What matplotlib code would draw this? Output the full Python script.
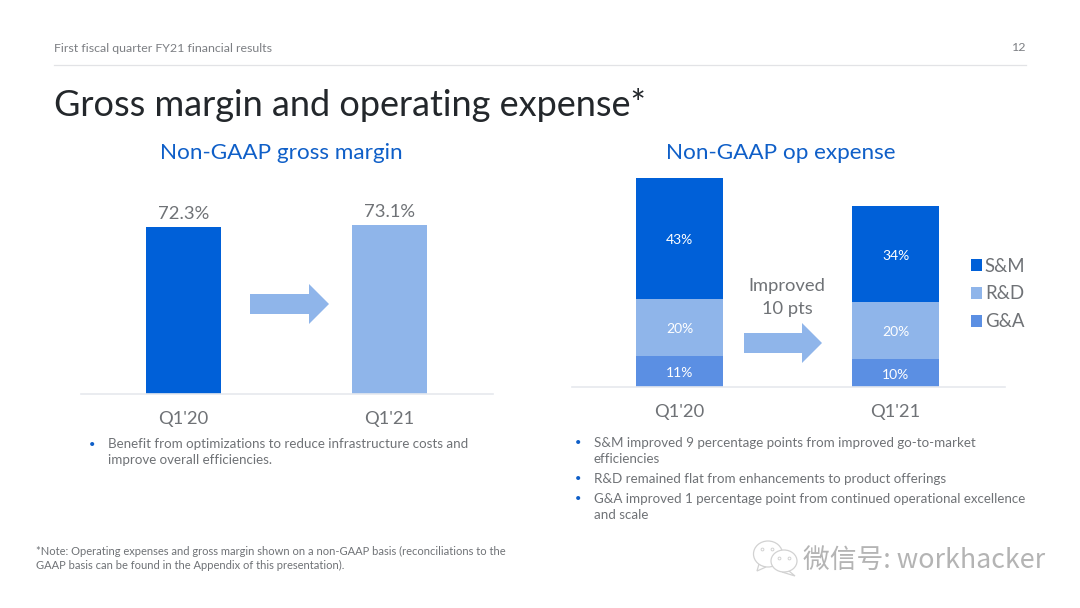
import matplotlib
matplotlib.use("Agg")
import matplotlib.pyplot as plt
from matplotlib.patches import Ellipse, Polygon

W, H = 1080, 608

quarters = ["Q1'20", "Q1'21"]
gross_margin = [72.3, 73.1]
gross_labels = ["72.3%", "73.1%"]
opex_series = ["G&A", "R&D", "S&M"]
opex_ga = [11, 10]
opex_rd = [20, 20]
opex_sm = [43, 34]

BLUE = "#0060d8"
LIGHT = "#8fb5ea"
MID = "#5b8fe3"
GRAY = "#6f7276"
TITLE_BLUE = "#0f5fc8"
DARK = "#23272b"
AXIS = "#e6e9ee"

plt.rcParams["font.family"] = ["Lato", "DejaVu Sans"]


def px_axes(fig, left, right, top, bottom):
    return fig.add_axes([left / W, 1 - bottom / H, (right - left) / W, (bottom - top) / H])


def clean(ax):
    for side in ["top", "left", "right"]:
        ax.spines[side].set_visible(False)
    ax.spines["bottom"].set_color(AXIS)
    ax.spines["bottom"].set_linewidth(1.2)
    ax.set_yticks([])
    ax.patch.set_alpha(0)


fig = plt.figure(figsize=(W / 100, H / 100), dpi=100, facecolor="white")

# overlay in pixel coordinates, for the slide furniture
bg = fig.add_axes([0, 0, 1, 1])
bg.set_xlim(0, W)
bg.set_ylim(H, 0)
bg.axis("off")

# ── gross margin ───────────────────────────────────────────────────────────────
ax1 = px_axes(fig, 81, 493, 209, 394)
clean(ax1)
bars = ax1.bar([0, 1], gross_margin, width=0.364, color=[BLUE, LIGHT])
ax1.set_xlim(-0.4976, 1.502)
ax1.set_ylim(0, 80)
ax1.set_xticks([0, 1], quarters, fontsize=13.2, color=GRAY)
ax1.tick_params(axis="x", length=0, pad=12.5)
for b, lab in zip(bars, gross_labels):
    ax1.annotate(lab, (b.get_x() + b.get_width() / 2, b.get_height()), xytext=(0, 3.5),
                 textcoords="offset points", ha="center", va="bottom",
                 fontsize=13.2, color=GRAY, annotation_clip=False)

# ── op expense ─────────────────────────────────────────────────────────────────
ax2 = px_axes(fig, 572, 1005, 161, 387)
clean(ax2)
bottom = [0, 0]
handles = {}
for name, vals, color, in zip(opex_series, [opex_ga, opex_rd, opex_sm], [MID, LIGHT, BLUE]):
    rects = ax2.bar([0, 1], vals, width=0.403, bottom=bottom, color=color)
    handles[name] = rects
    labs = ax2.bar_label(rects, labels=[f"{v}%" for v in vals], label_type="center",
                         color="white", fontsize=10)
    for t in labs:
        t.xyann = (0, -1.3)
    bottom = [a + b for a, b in zip(bottom, vals)]
ax2.set_xlim(-0.498, 1.507)
ax2.set_ylim(0, 80)
ax2.set_xticks([0, 1], quarters, fontsize=13.2, color=GRAY)
ax2.tick_params(axis="x", length=0, pad=12.5)
ax2.legend([handles[n] for n in reversed(opex_series)], list(reversed(opex_series)),
           loc="center left", bbox_to_anchor=(954 / W, 1 - 294 / H),
           bbox_transform=fig.transFigure, frameon=False, fontsize=13.4,
           labelcolor=GRAY, handlelength=0.62, handleheight=0.62, handletextpad=0.14,
           labelspacing=0.58)

# ── arrows ─────────────────────────────────────────────────────────────────────
for x0, x1, xh, yc in [(250, 329, 309, 304), (744, 822, 802, 343)]:
    bg.add_patch(Polygon([(x0, yc - 10), (xh, yc - 10), (xh, yc - 20), (x1, yc),
                          (xh, yc + 20), (xh, yc + 10), (x0, yc + 10)],
                         closed=True, fc=LIGHT, ec="none"))

# ── slide text ─────────────────────────────────────────────────────────────────
bg.plot([54, 1026], [64.5, 64.5], color="#e2e3e6", lw=0.9)
bg.text(54, 48, "First fiscal quarter FY21 financial results", fontsize=8.9,
        color="#7c7f83", va="center")
bg.text(1026, 47.5, "12", fontsize=8.9, color="#7c7f83", va="center", ha="right")
bg.text(54, 105, "Gross margin and operating expense*", fontsize=26.0, color=DARK, va="center")
bg.text(281, 153, "Non-GAAP gross margin", fontsize=16.2, color=TITLE_BLUE, va="center", ha="center")
bg.text(781, 153, "Non-GAAP op expense", fontsize=16.2, color=TITLE_BLUE, va="center", ha="center")
bg.text(787, 297.5, "Improved\n10 pts", fontsize=13.2, color=GRAY, va="center", ha="center",
        linespacing=1.6)

LEFT_NOTES = [(108, 444, "Benefit from optimizations to reduce infrastructure costs and"),
              (108, 460, "improve overall efficiencies.")]
RIGHT_NOTES = [(594, 443, "S&M improved 9 percentage points from improved go-to-market"),
               (594, 459, "efficiencies"),
               (594, 479, "R&D remained flat from enhancements to product offerings"),
               (594, 499, "G&A improved 1 percentage point from continued operational excellence"),
               (594, 515, "and scale")]
for x, y, s in LEFT_NOTES + RIGHT_NOTES:
    bg.text(x, y, s, fontsize=9.68, color=GRAY, va="center")
for x, y in [(92, 444), (578, 443), (578, 479), (578, 499)]:
    bg.text(x, y, "•", fontsize=8, color=TITLE_BLUE, va="center", ha="center")

bg.text(36, 551, "*Note: Operating expenses and gross margin shown on a non-GAAP basis (reconciliations to the",
        fontsize=8.03, color=GRAY, va="center")
bg.text(36, 565, "GAAP basis can be found in the Appendix of this presentation).",
        fontsize=8.03, color=GRAY, va="center")

# ── watermark ──────────────────────────────────────────────────────────────────
EDGE = "#d2d2d2"
bg.add_patch(Polygon([(759, 564), (757, 571), (766, 567)], closed=True, fc="white", ec=EDGE, lw=0.9))
bg.add_patch(Ellipse((768, 554), 29, 26, fc="white", ec=EDGE, lw=0.9))
bg.add_patch(Polygon([(789, 571), (795, 576), (782, 572)], closed=True, fc="white", ec=EDGE, lw=0.9))
bg.add_patch(Ellipse((784, 561), 26, 22, fc="white", ec=EDGE, lw=0.9))
bg.plot([762, 772, 779, 789], [549, 549, 558, 558], ls="none", marker="o", ms=2,
        mfc="white", mec=EDGE, mew=0.7)
bg.text(803, 560, "微信号: workhacker", fontsize=19.3, color="#b4b4b4", va="center",
        family=["Noto Sans CJK SC", "DejaVu Sans"])

fig.savefig("out.png", dpi=100)
